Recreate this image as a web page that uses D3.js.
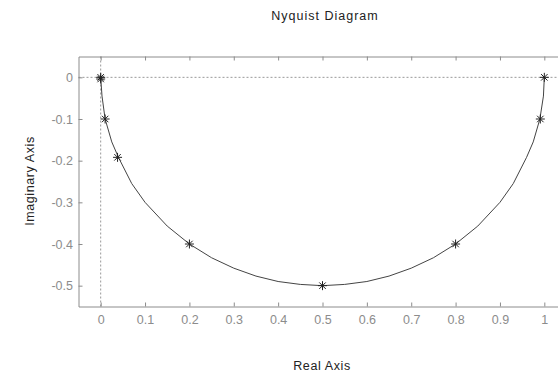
<!DOCTYPE html>
<html>
<head>
<meta charset="utf-8">
<script src="https://cdn.jsdelivr.net/npm/d3@7"></script>
<style>
  body { margin: 0; background: #fff; }
  text { font-family: "Liberation Sans", Arial, sans-serif; }
</style>
</head>
<body>
<div id="chart"></div>
<script>
// Nyquist curve
var curveRe = [1, 0.998, 0.99, 0.975, 0.96, 0.93, 0.9, 0.85, 0.8, 0.75, 0.7, 0.65, 0.6, 0.55, 0.5,
               0.45, 0.4, 0.35, 0.3, 0.25, 0.2, 0.15, 0.1, 0.07, 0.04, 0.025, 0.01, 0.003, 0];
var curveIm = [0, -0.045, -0.1, -0.155, -0.192, -0.255, -0.3, -0.357, -0.4, -0.433, -0.458, -0.477, -0.49, -0.497, -0.5,
               -0.497, -0.49, -0.477, -0.458, -0.433, -0.4, -0.357, -0.3, -0.255, -0.192, -0.155, -0.1, -0.045, 0];

// asterisk markers
var markRe = [1, 0.991, 0.8, 0.5, 0.2, 0.038, 0.01, 0, 0];
var markIm = [0, -0.1, -0.4, -0.5, -0.4, -0.192, -0.1, -0.004, 0];

var xTicks = [0, 0.1, 0.2, 0.3, 0.4, 0.5, 0.6, 0.7, 0.8, 0.9, 1];
var yTicks = [0, -0.1, -0.2, -0.3, -0.4, -0.5];

var svgWidth = 558;
var svgHeight = 374;

var svg = d3.select("#chart")
  .append("svg")
  .attr("width", svgWidth)
  .attr("height", svgHeight);

// box spans xlim [-0.05, 1.05], ylim [-0.55, 0.05]; right side falls off the canvas
var x = d3.scaleLinear().domain([-0.05, 1.05]).range([78.5, 566.5]);
var y = d3.scaleLinear().domain([-0.55, 0.05]).range([306.5, 56.5]);

var axisColor = "#8c8c8c";

// dotted zero lines
svg.append("line")
  .attr("x1", x(-0.05)).attr("x2", x(1.05))
  .attr("y1", y(0)).attr("y2", y(0))
  .attr("stroke", "#999").attr("stroke-dasharray", "2,2");
svg.append("line")
  .attr("x1", x(0)).attr("x2", x(0))
  .attr("y1", y(0.05)).attr("y2", y(-0.55))
  .attr("stroke", "#999").attr("stroke-dasharray", "2,2");

// axes with inward ticks
var bottomAxis = d3.axisBottom(x).tickValues(xTicks).tickSizeInner(-4).tickSizeOuter(0).tickPadding(9)
  .tickFormat(d => String(d));
var topAxis = d3.axisTop(x).tickValues(xTicks).tickSizeInner(-4).tickSizeOuter(0).tickFormat("");
var leftAxis = d3.axisLeft(y).tickValues(yTicks).tickSizeInner(-4).tickSizeOuter(0).tickPadding(5.5)
  .tickFormat(d => String(d));

function styleAxis(g) {
  g.select(".domain").attr("stroke", axisColor);
  g.selectAll(".tick line").attr("stroke", axisColor);
  g.selectAll(".tick text").attr("fill", axisColor).style("font-size", "12.5px")
    .style("font-family", "'Liberation Sans', Arial, sans-serif");
}

svg.append("g").attr("transform", `translate(0, ${y(-0.55)})`).call(bottomAxis).call(styleAxis);
svg.append("g").attr("transform", `translate(0, ${y(0.05)})`).call(topAxis).call(styleAxis);
svg.append("g").attr("transform", `translate(${x(-0.05)}, 0)`).call(leftAxis).call(styleAxis);
svg.append("line")
  .attr("x1", x(1.05)).attr("x2", x(1.05))
  .attr("y1", y(0.05)).attr("y2", y(-0.55))
  .attr("stroke", axisColor);

// curve
var pts = curveRe.map(function(d, i) { return [d, curveIm[i]]; });
var line = d3.line().x(d => x(d[0])).y(d => y(d[1]));
svg.append("path")
  .datum(pts)
  .attr("d", line)
  .attr("fill", "none")
  .attr("stroke", "#444")
  .attr("stroke-width", 1);

// asterisks
var s = 4.5;
var marks = markRe.map(function(d, i) { return [d, markIm[i]]; });
var star = svg.selectAll("g.mark")
  .data(marks)
  .enter()
  .append("g")
  .attr("class", "mark")
  .attr("transform", d => `translate(${x(d[0])}, ${y(d[1])})`);
star.append("path")
  .attr("d", `M${-s},0H${s}M0,${-s}V${s}M${-s * 0.72},${-s * 0.72}L${s * 0.72},${s * 0.72}M${-s * 0.72},${s * 0.72}L${s * 0.72},${-s * 0.72}`)
  .attr("stroke", "#222")
  .attr("stroke-width", 1)
  .attr("fill", "none");

// titles
svg.append("text")
  .attr("x", 325).attr("y", 20)
  .attr("text-anchor", "middle")
  .style("font-size", "12.5px")
  .style("letter-spacing", "1px")
  .attr("fill", "#222")
  .text("Nyquist Diagram");

svg.append("text")
  .attr("x", 322).attr("y", 370)
  .attr("text-anchor", "middle")
  .style("font-size", "12.5px")
  .style("letter-spacing", "0.6px")
  .attr("fill", "#222")
  .text("Real Axis");

svg.append("text")
  .attr("transform", "rotate(-90)")
  .attr("x", -181).attr("y", 34)
  .attr("text-anchor", "middle")
  .style("font-size", "12.5px")
  .style("letter-spacing", "0.6px")
  .attr("fill", "#222")
  .text("Imaginary Axis");
</script>
</body>
</html>
